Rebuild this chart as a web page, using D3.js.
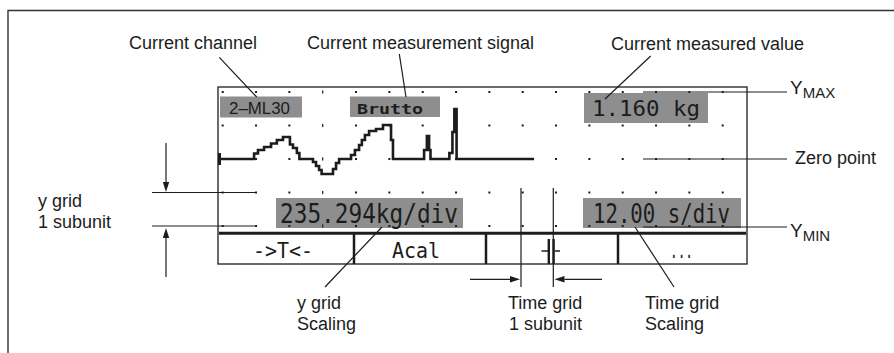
<!DOCTYPE html>
<html><head><meta charset="utf-8">
<script src="https://cdn.jsdelivr.net/npm/d3@7"></script>
<style>body{margin:0;background:#fff}svg{display:block}</style>
</head><body><svg id="c" width="894" height="353"></svg>
<script>
// ---- data ----
const channelName = "2–ML30";
const signalName = "Brutto";
const measuredValue = "1.160 kg";
const yScalingText = "235.294kg/div";
const tScalingText = "12.00 s/div";
const softKeys = ["->T<-", "Acal", "", "..."];
const kgPerDiv = 235.294;          // y grid subunit
const sPerDiv = 12;                // time grid subunit
const gridColumns = [0,1,2,3,4,5,6,7,8,9,10,11,12,13,14,15];
const gridRows = [2,1,0,-1,-2];
// measurement signal (time s, weight kg), step trace
const signalT = [-1.6, 11.3, 12.7, 14.9, 17.4, 19.5, 21.7, 24.2, 25.3, 26.7, 27.6, 32.5, 33.6, 34.7, 35.6, 39.7, 40.8, 41.9, 46.2, 47.6, 49.1, 50.1, 51.2, 52.7, 55.2, 57.7, 60.6, 61.3, 72.5, 73.5, 74.3, 74.8, 81.6, 82.7, 83.4, 84.2, 112.1];
const signalV = [0, 39, 63, 84, 109, 133, 155, 102, 77, 42, 0, -21, -49, -77, -105, -70, -28, 0, 28, 63, 98, 133, 169, 197, 211, 239, 133, 0, 63, 161, 63, 0, 42, 190, 351, 0, 0];

const svg = d3.select("#c");
const INK = "#1c1c1c";
const GRAY = "#8e8e8e";
const SANS = "'Liberation Sans', Arial, sans-serif";
const MONO = "'DejaVu Sans Mono', 'Liberation Mono', monospace";

// scales
const x = d3.scaleLinear().domain([0, 15 * sPerDiv]).range([222.7, 722.7]);
const y = d3.scaleLinear().domain([-2 * kgPerDiv, 2 * kgPerDiv]).range([226, 92]);

// outer frame
svg.append("path").attr("d", "M8,353 L8,10.5 L894,10.5").attr("fill", "none").attr("stroke", "#333").attr("stroke-width", 1.4);

// display box
svg.append("rect").attr("x", 218).attr("y", 87).attr("width", 529).attr("height", 177)
  .attr("fill", "none").attr("stroke", INK).attr("stroke-width", 1.3);

// gray value boxes
const boxes = [
  {x: 220, y: 96.5, w: 82, h: 21},
  {x: 350, y: 96.5, w: 90, h: 20.5},
  {x: 584, y: 93, w: 124, h: 30},
  {x: 276, y: 198, w: 187, h: 30},
  {x: 583, y: 198, w: 158, h: 30}
];
svg.selectAll("rect.box").data(boxes).join("rect").attr("class", "box")
  .attr("x", d => d.x).attr("y", d => d.y).attr("width", d => d.w).attr("height", d => d.h)
  .attr("fill", GRAY);

// texts in boxes
svg.append("text").attr("x", 229).attr("y", 114).attr("font-family", SANS).attr("font-size", 17)
  .attr("textLength", 61).attr("lengthAdjust", "spacingAndGlyphs").attr("fill", INK).text(channelName);
svg.append("text").attr("x", 357).attr("y", 113.5).attr("font-family", MONO).attr("font-weight", "bold").attr("font-size", 14)
  .attr("textLength", 66).attr("lengthAdjust", "spacingAndGlyphs").attr("fill", INK).text(signalName);
svg.append("text").attr("x", 592).attr("y", 115.5).attr("font-family", MONO).attr("font-size", 21)
  .attr("textLength", 108).attr("lengthAdjust", "spacingAndGlyphs").attr("fill", INK).text(measuredValue);
svg.append("text").attr("x", 280).attr("y", 223).attr("font-family", MONO).attr("font-size", 27)
  .attr("textLength", 178).attr("lengthAdjust", "spacingAndGlyphs").attr("fill", INK).text(yScalingText);
svg.append("text").attr("x", 593).attr("y", 223).attr("font-family", MONO).attr("font-size", 27)
  .attr("textLength", 137).attr("lengthAdjust", "spacingAndGlyphs").attr("fill", INK).text(tScalingText);

// grid dots
const dots = [];
gridRows.forEach(r => gridColumns.forEach(c => dots.push({r, c})));
svg.selectAll("rect.dot").data(dots).join("rect").attr("class", "dot")
  .attr("x", d => x(d.c * sPerDiv) - (d.c === 3 ? 0.6 : 1))
  .attr("y", d => y(d.r * kgPerDiv) - (d.c === 3 ? 1.6 : 1))
  .attr("width", d => d.c === 3 ? 1.2 : 2)
  .attr("height", d => d.c === 3 ? 3.2 : 2)
  .attr("fill", INK);

// signal trace
const sig = signalT.map((t, i) => [t, signalV[i]]);
svg.append("path").datum(sig)
  .attr("d", d3.line().x(d => x(d[0])).y(d => y(d[1])).curve(d3.curveStepAfter))
  .attr("fill", "none").attr("stroke", INK).attr("stroke-width", 2.6).attr("stroke-linejoin", "miter");
// cursor marker at left edge
svg.append("rect").attr("x", 218).attr("y", y(0) - 6).attr("width", 3).attr("height", 12).attr("fill", INK);

// softkey bar
svg.append("line").attr("x1", 219).attr("x2", 746).attr("y1", 233.3).attr("y2", 233.3).attr("stroke", INK).attr("stroke-width", 3);
[354, 486, 618].forEach(xx => svg.append("line").attr("x1", xx).attr("x2", xx).attr("y1", 233).attr("y2", 264)
  .attr("stroke", INK).attr("stroke-width", 2.5));
const keyPos = [{x: 253, w: 60}, {x: 392, w: 48}, null, {x: 670, w: 23}];
softKeys.forEach((k, i) => {
  if (!k) return;
  svg.append("text").attr("x", keyPos[i].x).attr("y", 258).attr("font-family", MONO).attr("font-size", 22)
    .attr("textLength", keyPos[i].w).attr("lengthAdjust", "spacingAndGlyphs").attr("fill", INK).text(k);
});
// -||- icon
[548.8, 553.6].forEach(xx => svg.append("line").attr("x1", xx).attr("x2", xx).attr("y1", 239).attr("y2", 264)
  .attr("stroke", INK).attr("stroke-width", 2.4));
svg.append("line").attr("x1", 541.5).attr("x2", 548).attr("y1", 251).attr("y2", 251).attr("stroke", INK).attr("stroke-width", 1.5);
svg.append("line").attr("x1", 554.5).attr("x2", 560).attr("y1", 251).attr("y2", 251).attr("stroke", INK).attr("stroke-width", 1.5);

// annotation lines
const lines = [
  [219.3, 57.3, 256.7, 97],
  [399.3, 54, 406, 97],
  [650.7, 56, 605, 99],
  [325, 287, 382, 227],
  [674, 287, 635, 227],
  [643, 92, 787, 92],
  [643, 159, 787, 159],
  [643, 227, 787, 227],
  [152, y(-kgPerDiv), x(sPerDiv), y(-kgPerDiv)],
  [152, y(-2 * kgPerDiv), x(sPerDiv), y(-2 * kgPerDiv)],
  [x(25 * sPerDiv / 33.333 * 0) + 298.3, 188, x(0) + 298.3, 287],
  [553.3, 188, 553.3, 287]
];
lines.forEach(l => svg.append("line").attr("x1", l[0]).attr("y1", l[1]).attr("x2", l[2]).attr("y2", l[3])
  .attr("stroke", INK).attr("stroke-width", 1.2));

// arrows
function arrow(x1, y1, x2, y2) {
  const a = Math.atan2(y2 - y1, x2 - x1), L = 10, W = 3.2;
  const bx = x2 - L * Math.cos(a), by = y2 - L * Math.sin(a);
  svg.append("line").attr("x1", x1).attr("y1", y1).attr("x2", bx).attr("y2", by).attr("stroke", INK).attr("stroke-width", 1.2);
  svg.append("path").attr("d", `M${x2},${y2} L${bx - W * Math.sin(a)},${by + W * Math.cos(a)} L${bx + W * Math.sin(a)},${by - W * Math.cos(a)} Z`).attr("fill", INK);
}
arrow(470, 279.3, 520, 279.3);
arrow(602, 279.3, 554.5, 279.3);
arrow(166, 143, 166, 192);
arrow(166, 277, 166, 228);

// labels
const labels = [
  {t: "Current channel", x: 129, y: 48.5},
  {t: "Current measurement signal", x: 307, y: 48.5},
  {t: "Current measured value", x: 611, y: 50},
  {t: "Zero point", x: 795, y: 164},
  {t: "y grid", x: 38, y: 207},
  {t: "1 subunit", x: 38, y: 228},
  {t: "y grid", x: 297, y: 309},
  {t: "Scaling", x: 297, y: 330},
  {t: "Time grid", x: 508, y: 309},
  {t: "1 subunit", x: 509, y: 330},
  {t: "Time grid", x: 645, y: 309},
  {t: "Scaling", x: 645, y: 330}
];
svg.selectAll("text.lab").data(labels).join("text").attr("class", "lab")
  .attr("x", d => d.x).attr("y", d => d.y).attr("font-family", SANS).attr("font-size", 18)
  .attr("fill", INK).text(d => d.t);

// Y_MAX / Y_MIN
[{y: 93.5, sub: "MAX", sy: 97.5}, {y: 237, sub: "MIN", sy: 241}].forEach(d => {
  const t = svg.append("text").attr("x", 790).attr("y", d.y).attr("font-family", SANS).attr("font-size", 19).attr("fill", INK);
  t.append("tspan").text("Y");
  t.append("tspan").attr("y", d.sy).attr("font-size", 15).text(d.sub);
});
</script>
</body></html>
